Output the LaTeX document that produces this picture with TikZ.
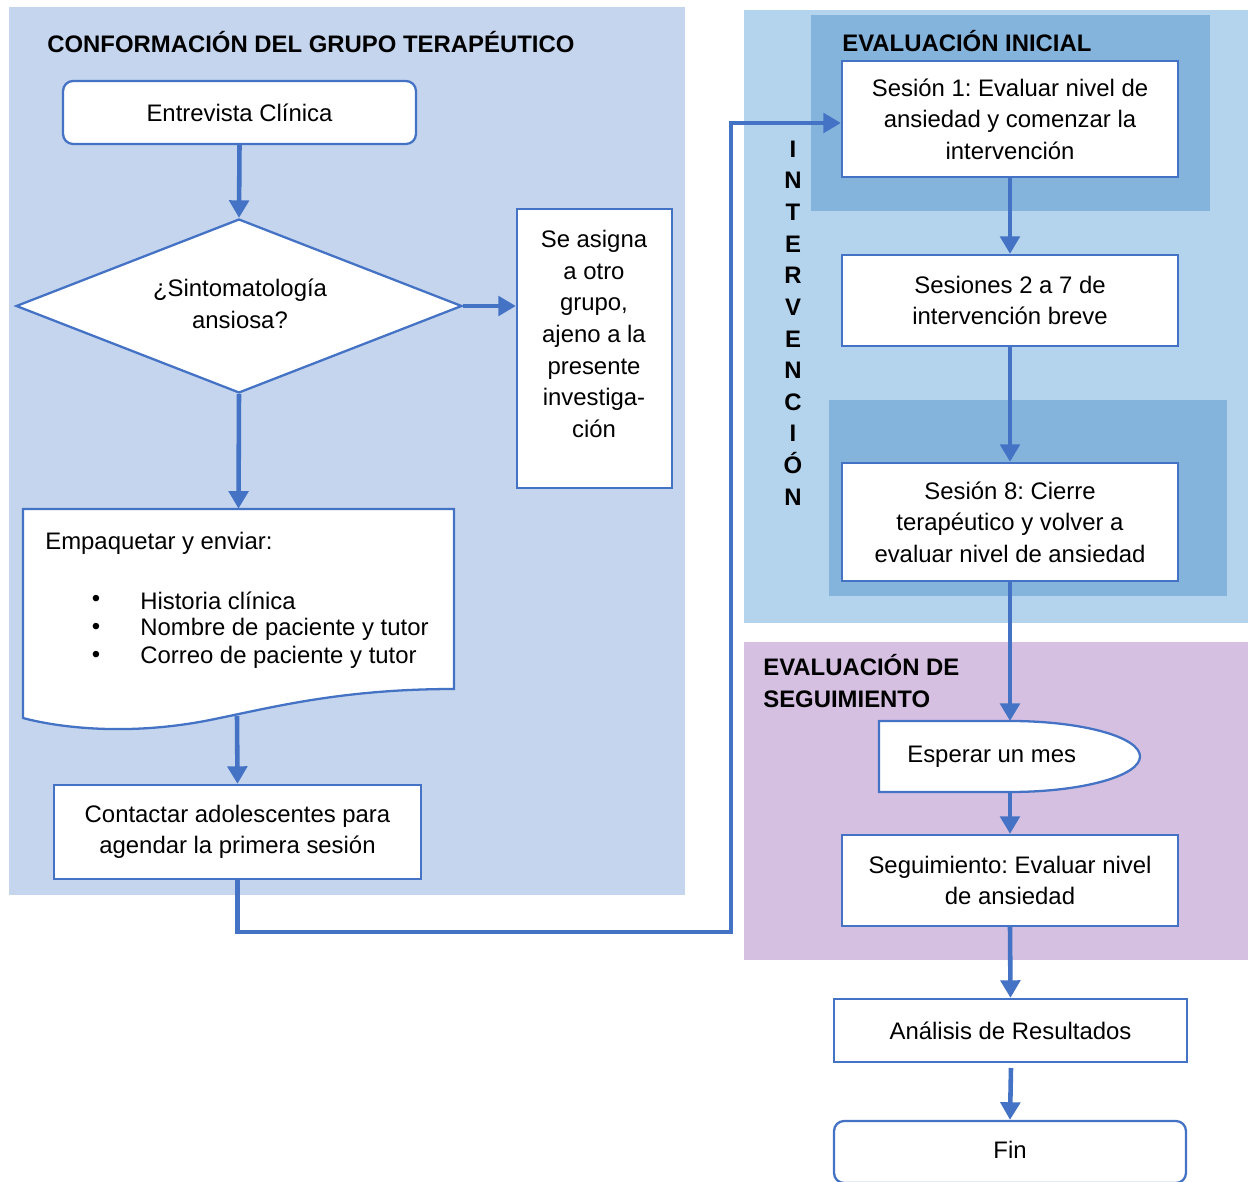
\documentclass[tikz,border=0pt]{standalone}
\usepackage{fontspec}
\setmainfont{Liberation Sans}
\usetikzlibrary{shapes.geometric,arrows.meta}
\definecolor{bgleft}{RGB}{197,213,238}
\definecolor{bgright}{RGB}{180,211,236}
\definecolor{bginner}{RGB}{132,180,220}
\definecolor{bgpurple}{RGB}{213,192,226}
\definecolor{lineblue}{RGB}{68,114,196}
\frenchspacing
\begin{document}
\begin{tikzpicture}[x=0.02cm,y=-0.02cm,
  font=\fontsize{13.6}{18}\selectfont,
  box/.style={draw=lineblue, line width=1.3pt, fill=white, inner sep=0pt, align=center, minimum width=6.72cm},
  arr/.style={draw=lineblue, line width=2.6pt, -{Triangle[width=11pt,length=10pt]}},
  heading/.style={font=\fontsize{13.6}{18}\selectfont\bfseries, anchor=west, inner sep=0pt, align=left}]
\useasboundingbox (0,0) rectangle (1248,1182);
% backgrounds
\fill[bgleft] (9,7) rectangle (685,895);
\fill[bgright] (744,10) rectangle (1248,623);
\fill[bginner] (811,15) rectangle (1210,211);
\fill[bginner] (829,400) rectangle (1227,596);
\fill[bgpurple] (744,642) rectangle (1248,960);
% headings
\node[heading] at (47,42) {CONFORMACIÓN DEL GRUPO TERAPÉUTICO};
\node[heading] at (842,41) {EVALUACIÓN INICIAL};
\node[heading, font=\fontsize{13.6}{18.2}\selectfont\bfseries] at (763,681) {EVALUACIÓN DE\\SEGUIMIENTO};
\node[font=\fontsize{13.6}{18}\selectfont\bfseries, align=center, inner sep=0pt] (interv) at (793,323)
  {I\\N\\T\\E\\R\\V\\E\\N\\C\\I\\Ó\\N};
% left column
\node[box, rounded corners=0.2cm, minimum width=7.06cm, minimum height=1.26cm] (entre) at (239.5,112.5) {Entrevista Clínica};
\node[diamond, draw=lineblue, line width=1.3pt, fill=white, inner sep=0pt, minimum width=8.92cm, minimum height=3.48cm, align=center] (diam) at (239,306) {};
\node[align=center, inner sep=0pt] at (240,304) {¿Sintomatología\\ansiosa?};
\node[box, minimum width=3.1cm, minimum height=5.58cm] (asig) at (594.5,348.5) {};
\node[align=center, inner sep=0pt, font=\fontsize{13.6}{18}\selectfont] at (594,334) {Se asigna\\a otro\\grupo,\\ajeno a la\\presente\\investiga-\\ción};
% document shape
\node[inner sep=0pt, minimum width=8.62cm, minimum height=4.18cm] (doc) at (238.5,613.5) {};
\draw[lineblue, line width=1.3pt, fill=white] (23,509) -- (454,509) -- (454,689)
  .. controls (340,689) and (270,708) .. (210,720)
  .. controls (130,736) and (60,728) .. (23,718) -- cycle;
\coordinate (docb) at (237,716);
\node[anchor=west, inner sep=0pt] at (45,543) {Empaquetar y enviar:};
\node[inner sep=0pt] at (96,601) {•};
\node[inner sep=0pt] at (96,629) {•};
\node[inner sep=0pt] at (96,657) {•};
\node[anchor=west, inner sep=0pt] at (140,601) {Historia clínica};
\node[anchor=west, inner sep=0pt] at (140,629) {Nombre de paciente y tutor};
\node[anchor=west, inner sep=0pt] at (140,657) {Correo de paciente y tutor};
\node[box, minimum width=7.34cm, minimum height=1.88cm] (contact) at (237.5,832) {Contactar adolescentes para\\agendar la primera sesión};
% right column
\node[box, minimum height=2.32cm] (s1) at (1010,119) {Sesión 1: Evaluar nivel de\\ansiedad y comenzar la\\intervención};
\node[box, minimum height=1.82cm] (s2) at (1010,300.5) {Sesiones 2 a 7 de\\intervención breve};
\node[box, minimum height=2.36cm] (s8) at (1010,522) {Sesión 8: Cierre\\terapéutico y volver a\\evaluar nivel de ansiedad};
% delay shape
\node[inner sep=0pt, minimum width=5.22cm, minimum height=1.42cm] (esp) at (1009.5,756.5) {};
\draw[lineblue, line width=1.3pt, fill=white] (879,721) -- (1010,721)
  .. controls (1082,721) and (1140,737) .. (1140,756.5)
  .. controls (1140,776) and (1082,792) .. (1010,792) -- (879,792) -- cycle;
\node[anchor=west, inner sep=0pt] at (907,757) {Esperar un mes};
\coordinate (espt) at (1010,721);
\coordinate (espb) at (1010,792);
\node[box, minimum height=1.82cm] (seg) at (1010,880.5) {Seguimiento: Evaluar nivel\\de ansiedad};
\node[box, minimum width=7.06cm, minimum height=1.26cm] (anal) at (1010.5,1030.5) {Análisis de Resultados};
\node[box, rounded corners=0.2cm, minimum width=7.04cm, minimum height=1.24cm] (fin) at (1010,1152) {};
\node[inner sep=0pt] at (1010,1150) {Fin};
% connectors
\draw[arr] (entre.south) -- (diam.north);
\draw[arr] (diam.east) -- (diam.east -| asig.west);
\draw[arr] (diam.south) -- (doc.north);
\draw[arr] (docb) -- (contact.north);
\coordinate (c1) at (731,932);
\draw[arr] (contact.south) |- (c1) |- ([yshift=-0.08cm]s1.west);
\draw[arr] (s1.south) -- (s2.north);
\draw[arr] (s2.south) -- (s8.north);
\draw[arr] (s8.south) -- (espt);
\draw[arr] (espb) -- (seg.north);
\draw[arr] (seg.south) -- (anal.north);
\coordinate (analb) at (1011,1068);
\draw[arr] (analb) -- (fin.north);
\end{tikzpicture}
\end{document}
